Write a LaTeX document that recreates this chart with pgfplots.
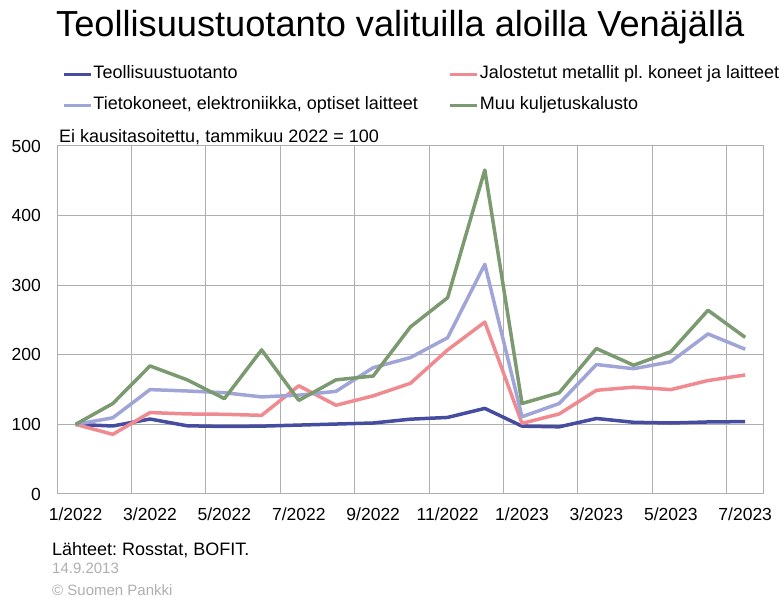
\documentclass[border=0pt]{standalone}
\usepackage{pgfplots}
\pgfplotsset{compat=1.18}
\usepackage{fontspec}
\setmainfont{Liberation Sans}
\frenchspacing
\definecolor{cBlue}{RGB}{70,76,160}
\definecolor{cPink}{RGB}{240,138,145}
\definecolor{cLight}{RGB}{160,165,215}
\definecolor{cGreen}{RGB}{124,154,112}
\definecolor{cGrid}{RGB}{175,175,175}
\definecolor{cNote}{RGB}{175,175,175}
\pgfplotstableread{
x blue pink light green
0 100 100 100 100
1 97.7 85.7 109.5 130
2 107.7 117 150 184
3 98 115 148 164
4 97 114.5 145.5 137
5 97.5 113 139.5 207
6 99 155.5 142 134.5
7 100.5 127.5 147.5 164
8 102 141 181.5 169.5
9 107.5 159 196 240
10 110 207 224.5 282
11 123 247 330 465.5
12 97.5 101.5 111 130
13 96.5 115 130 145.5
14 108.5 149 186 209
15 103 153.5 180 185
16 102 150 190 204.5
17 103.5 163 230 264
18 104 171 208 225
}\datatable
\begin{document}
\begin{tikzpicture}[x=1bp,y=1bp]
\path[use as bounding box] (0,0) rectangle (780,598);
\begin{axis}[
  at={(57bp,104bp)}, anchor=south west,
  scale only axis, width=706.8bp, height=348bp,
  xmin=-0.5, xmax=18.5, ymin=0, ymax=500,
  xtick={0,2,...,18},
  xticklabels={1/2022,3/2022,5/2022,7/2022,9/2022,11/2022,1/2023,3/2023,5/2023,7/2023},
  minor xtick={1.5,3.5,...,17.5},
  ytick={0,100,...,500},
  xminorgrids, ymajorgrids, xmajorgrids=false,
  major tick length=0pt, minor tick length=0pt,
  grid style={cGrid, line width=1bp},
  minor grid style={cGrid, line width=1bp},
  axis line style={cGrid, line width=1bp},
  /pgf/number format/assume math mode=true,
  ticklabel style={font=\fontsize{17.5bp}{20bp}\selectfont, inner sep=0pt},
  xticklabel style={anchor=base, yshift=-27bp},
  yticklabel style={anchor=east, xshift=-16bp},
  legend columns=2,
  legend cell align=left,
  legend style={at={(0.00707,1.2328)}, anchor=north west, draw=none, fill=none,
    inner sep=0pt, outer sep=0pt, column sep=0pt, row sep=12bp,
    font=\fontsize{18bp}{21bp}\selectfont,
    nodes={inner sep=1bp, text height=13bp, text depth=4bp}},
  legend image code/.code={\draw[#1, line width=3.5bp] (0bp,0bp) -- (27bp,0bp);},
  every axis plot/.append style={line width=3.5bp, line join=round},
]
\addplot[cBlue, no markers] table[x=x, y=blue] {\datatable};
\addlegendentry{\makebox[354bp][l]{Teollisuustuotanto}}
\addplot[cPink, no markers] table[x=x, y=pink] {\datatable};
\addlegendentry{Jalostetut metallit pl. koneet ja laitteet}
\addplot[cLight, no markers] table[x=x, y=light] {\datatable};
\addlegendentry{\makebox[354bp][l]{Tietokoneet, elektroniikka, optiset laitteet}}
\addplot[cGreen, no markers] table[x=x, y=green] {\datatable};
\addlegendentry{Muu kuljetuskalusto}
\end{axis}
\node[anchor=base west, inner sep=0pt, font=\fontsize{36.2bp}{41bp}\selectfont] at (56,598-37) {Teollisuustuotanto valituilla aloilla Venäjällä};
\node[anchor=base west, inner sep=0pt, font=\fontsize{18bp}{21bp}\selectfont] at (59,598-143) {Ei kausitasoitettu, tammikuu 2022 = 100};
\node[anchor=base west, inner sep=0pt, font=\fontsize{18bp}{21bp}\selectfont] at (52,598-556) {Lähteet: Rosstat, BOFIT.};
\node[anchor=base west, inner sep=0pt, text=cNote, font=\fontsize{15bp}{18bp}\selectfont] at (52,598-574) {14.9.2013};
\node[anchor=base west, inner sep=0pt, text=cNote, font=\fontsize{15bp}{18bp}\selectfont] at (52,598-596) {© Suomen Pankki};
\end{tikzpicture}
\end{document}
